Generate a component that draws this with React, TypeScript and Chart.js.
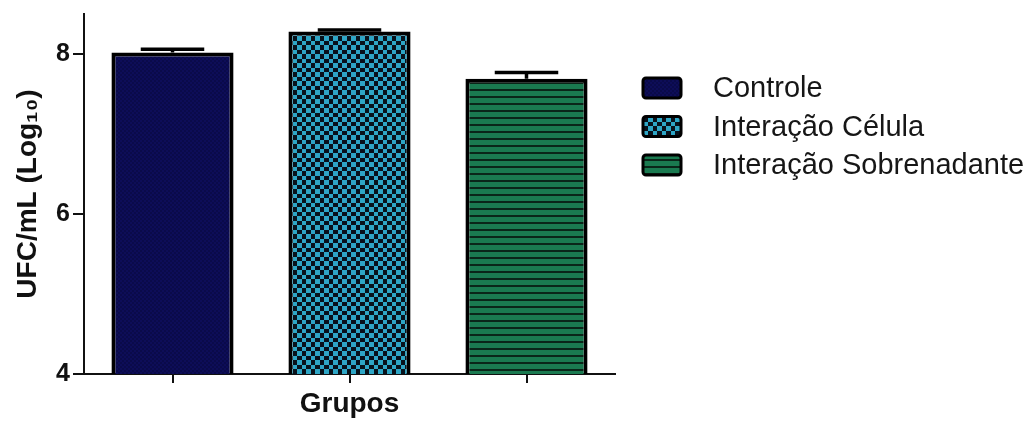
import React, { useEffect, useRef } from 'react';
import { Chart, registerables } from 'chart.js';

Chart.register(...registerables);

// ---- data ----
const categories = ['Controle', 'Interação Célula', 'Interação Sobrenadante'];
const means = [8.02, 8.28, 7.69];
const errors = [0.04, 0.02, 0.08];
const yTickValues = [4, 6, 8];
const yMin = 4;
const yMax = 8.5;
const yTitle = 'UFC/mL (Log₁₀)';
const xTitle = 'Grupos';

const FONT = '"Liberation Sans", Arial, Helvetica, sans-serif';

function makePattern(kind: string): CanvasPattern | string {
  const c = document.createElement('canvas');
  const ctx = c.getContext('2d')!;
  if (kind === 'navy') {
    c.width = 4; c.height = 4;
    ctx.fillStyle = '#0a0a4a';
    ctx.fillRect(0, 0, 4, 4);
    ctx.fillStyle = '#0d0d58';
    ctx.fillRect(0, 0, 2, 2);
    ctx.fillRect(2, 2, 2, 2);
  } else if (kind === 'checker') {
    c.width = 9; c.height = 9;
    ctx.fillStyle = '#08121c';
    ctx.fillRect(0, 0, 9, 9);
    ctx.fillStyle = '#2ea6c6';
    ctx.fillRect(0, 0, 5, 5);
    ctx.fillRect(5, 5, 4, 4);
  } else {
    c.width = 4; c.height = 7;
    ctx.fillStyle = '#1a7a50';
    ctx.fillRect(0, 0, 4, 7);
    ctx.fillStyle = '#0a2619';
    ctx.fillRect(0, 5, 4, 2);
  }
  return ctx.createPattern(c, 'repeat') || '#000';
}

export default function App() {
  const ref = useRef<HTMLCanvasElement | null>(null);

  useEffect(() => {
    const canvas = ref.current;
    if (!canvas) return;
    const fills = [makePattern('navy'), makePattern('checker'), makePattern('stripes')];

    const errorBars = {
      id: 'errorBars',
      afterDatasetsDraw(chart: any) {
        const ctx = chart.ctx;
        const meta = chart.getDatasetMeta(0);
        const y = chart.scales.y;
        ctx.save();
        ctx.strokeStyle = '#000';
        ctx.lineWidth = 3.5;
        meta.data.forEach((bar: any, i: number) => {
          const yTop = y.getPixelForValue(means[i] + errors[i]);
          const yBase = y.getPixelForValue(means[i]);
          const half = bar.width * 0.26;
          ctx.beginPath();
          ctx.moveTo(bar.x, yBase);
          ctx.lineTo(bar.x, yTop);
          ctx.moveTo(bar.x - half, yTop);
          ctx.lineTo(bar.x + half, yTop);
          ctx.stroke();
        });
        ctx.restore();
      },
    };

    const customLegend = {
      id: 'customLegend',
      afterDraw(chart: any) {
        const ctx = chart.ctx;
        ctx.save();
        const boxX = 643;
        const startY = 88;
        const gap = 38.5;
        categories.forEach((label, i) => {
          const cy = startY + i * gap;
          ctx.beginPath();
          (ctx as any).roundRect(boxX, cy - 10, 38, 20, 3);
          ctx.fillStyle = fills[i] as any;
          ctx.fill();
          ctx.lineWidth = 3;
          ctx.strokeStyle = '#000';
          ctx.stroke();
          ctx.fillStyle = '#161616';
          ctx.font = `29px ${FONT}`;
          ctx.textBaseline = 'middle';
          ctx.textAlign = 'left';
          ctx.fillText(label, 713, cy + 1);
        });
        ctx.restore();
      },
    };

    const chart = new Chart(canvas, {
      type: 'bar',
      data: {
        labels: categories,
        datasets: [
          {
            label: 'Grupos',
            data: means,
            backgroundColor: fills as any,
            borderColor: '#000',
            borderWidth: 4,
            borderSkipped: false,
            categoryPercentage: 1,
            barPercentage: 0.69,
          },
        ],
      },
      options: {
        responsive: false,
        animation: false,
        layout: { padding: { top: 14, right: 417, bottom: 0, left: 0 } },
        plugins: {
          legend: { display: false },
          tooltip: { enabled: false },
        },
        scales: {
          x: {
            offset: true,
            grid: {
              display: true,
              offset: false,
              drawOnChartArea: false,
              drawTicks: true,
              tickLength: 9,
              color: '#111',
              lineWidth: 2,
            },
            border: { display: true, color: '#111', width: 2 },
            ticks: { callback: () => '', padding: 0 },
            title: {
              display: true,
              text: xTitle,
              color: '#111',
              font: { family: FONT, size: 28, weight: 'bold' },
              padding: { top: 0, bottom: 0 },
            },
            afterFit: (s: any) => { s.height = 47; s.paddingLeft = 0; s.paddingRight = 0; },
          },
          y: {
            min: yMin,
            max: yMax,
            grid: {
              display: true,
              drawOnChartArea: false,
              drawTicks: true,
              tickLength: 11,
              color: '#111',
              lineWidth: 2,
            },
            border: { display: true, color: '#111', width: 2 },
            ticks: {
              stepSize: 2,
              color: '#111',
              padding: 3,
              font: { family: FONT, size: 25, weight: 'bold' },
            },
            afterBuildTicks: (s: any) => {
              s.ticks = yTickValues.map((v) => ({ value: v }));
            },
            title: {
              display: true,
              text: yTitle,
              color: '#111',
              font: { family: FONT, size: 28, weight: 'bold' },
              padding: { top: 11, bottom: 0 },
            },
            afterFit: (s: any) => { s.width = 84; s.paddingTop = 0; s.paddingBottom = 0; },
          },
        },
      },
      plugins: [errorBars, customLegend],
    });

    return () => chart.destroy();
  }, []);

  return (
    <div style={{ position: 'absolute', left: 0, top: 0, width: 1032, height: 421, background: '#fff' }}>
      <canvas ref={ref} width={1032} height={421} />
    </div>
  );
}
